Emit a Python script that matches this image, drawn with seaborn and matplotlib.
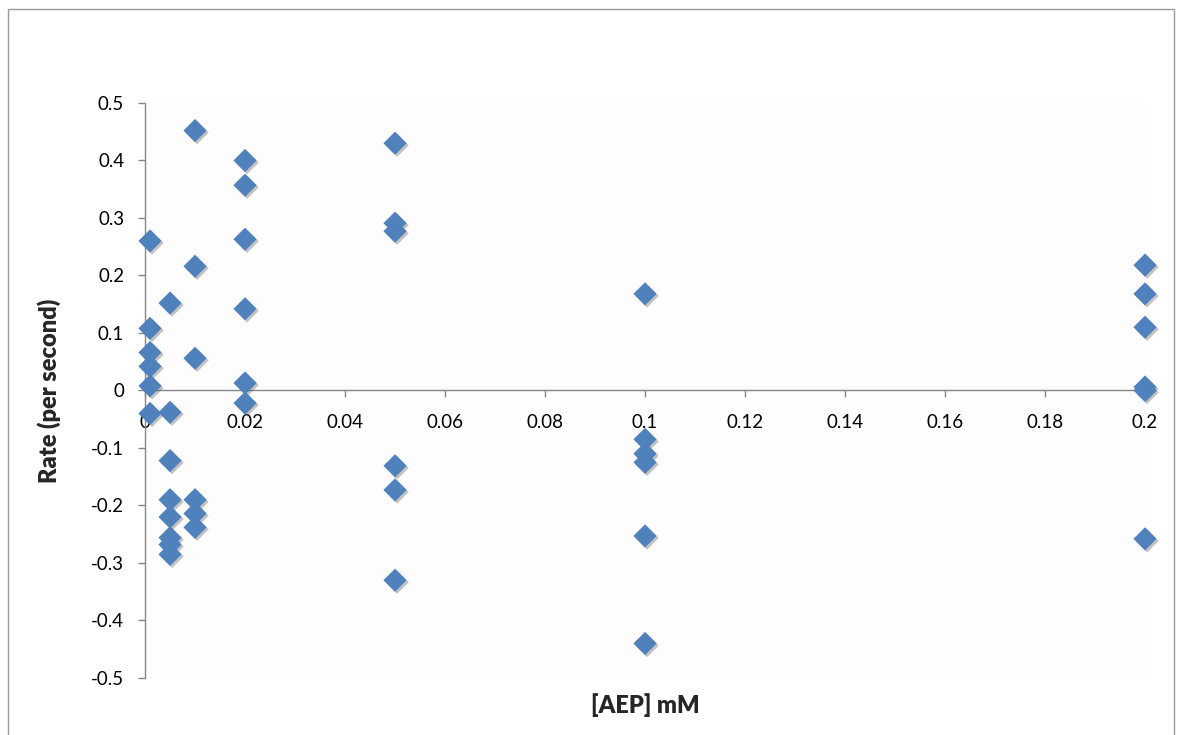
import pandas as pd
import matplotlib.pyplot as plt
import matplotlib.patheffects as pe
from matplotlib.patches import Rectangle
import seaborn as sns

# concentrations (mM) and measured rates (per second)
aep = [0.001] * 6 + [0.005] * 8 + [0.01] * 6 + [0.02] * 6 + [0.05] * 6 + [0.1] * 6 + [0.2] * 6
rate = [0.26, 0.108, 0.066, 0.042, 0.008, -0.040,
        0.152, -0.038, -0.122, -0.190, -0.220, -0.256, -0.268, -0.285,
        0.452, 0.216, 0.056, -0.190, -0.214, -0.238,
        0.400, 0.357, 0.263, 0.142, 0.013, -0.022,
        0.430, 0.291, 0.277, -0.131, -0.173, -0.330,
        0.168, -0.085, -0.110, -0.125, -0.253, -0.440,
        0.218, 0.168, 0.110, 0.006, 0.000, -0.258]

x_ticks = [0, 0.02, 0.04, 0.06, 0.08, 0.1, 0.12, 0.14, 0.16, 0.18, 0.2]
x_labels = ['0', '0.02', '0.04', '0.06', '0.08', '0.1', '0.12', '0.14', '0.16', '0.18', '0.2']
y_ticks = [0.5, 0.4, 0.3, 0.2, 0.1, 0, -0.1, -0.2, -0.3, -0.4, -0.5]
y_labels = ['0.5', '0.4', '0.3', '0.2', '0.1', '0', '-0.1', '-0.2', '-0.3', '-0.4', '-0.5']

df = pd.DataFrame({'aep': aep, 'rate': rate})

sns.set_style('white')
plt.rcParams['font.family'] = ['Lato', 'DejaVu Sans']

fig = plt.figure(figsize=(11.83, 7.35), dpi=100)
ax = fig.add_axes([0.1226, 0.0776, 0.8453, 0.7823])
ax.set_facecolor('#fdfdfd')

sns.scatterplot(data=df, x='aep', y='rate', marker='D', s=140, color='#4F81BD',
                edgecolor='none', ax=ax, clip_on=False, zorder=3,
                path_effects=[pe.SimplePatchShadow(offset=(1.5, -1.5), shadow_rgbFace='#555555',
                                                   alpha=0.35), pe.Normal()])

ax.set_xlim(0, 0.2)
ax.set_ylim(-0.5, 0.5)

for side in ['top', 'right']:
    ax.spines[side].set_visible(False)
ax.spines['bottom'].set_position(('data', 0))
for side in ['left', 'bottom']:
    ax.spines[side].set_color('#868686')
    ax.spines[side].set_linewidth(1)

ax.set_xticks(x_ticks)
ax.set_xticklabels(x_labels)
ax.set_yticks(y_ticks)
ax.set_yticklabels(y_labels)
ax.tick_params(axis='both', direction='out', length=5, width=1, color='#868686',
               labelsize=13.5, labelcolor='black', left=True, bottom=True)
ax.tick_params(axis='x', pad=12)
ax.tick_params(axis='y', pad=10)

ax.set_xlabel('[AEP] mM', fontsize=17, fontweight='heavy')
ax.xaxis.set_label_coords(0.5, -0.027)
ax.set_ylabel('Rate (per second)', fontsize=17, fontweight='heavy', labelpad=22)

# outer chart border
fig.patches.append(Rectangle((0.007, -0.01), 0.985, 0.998, transform=fig.transFigure,
                             fill=False, edgecolor='#9a9a9a', linewidth=1))

plt.savefig('out.png', dpi=100)
plt.close()
